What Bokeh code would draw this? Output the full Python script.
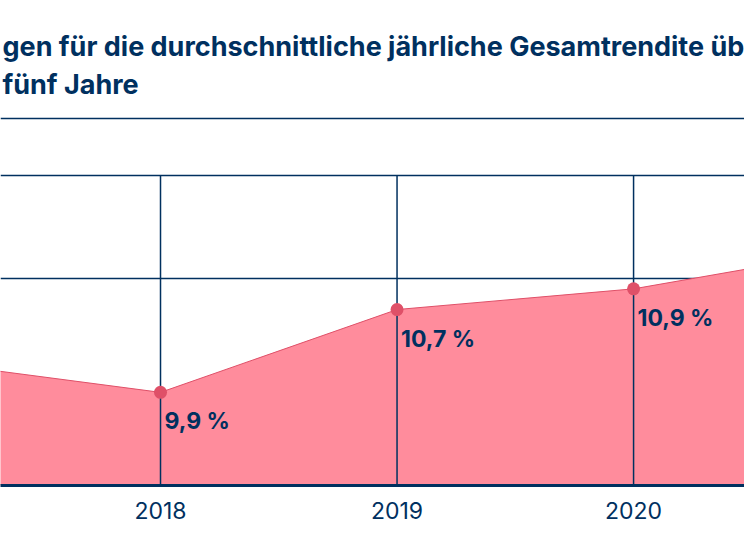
from bokeh.plotting import figure
from bokeh.models import Range1d, FixedTicker, Label, ColumnDataSource, Span
from bokeh.core.properties import value
from bokeh.embed import file_html
from bokeh.resources import INLINE

years = [2017, 2018, 2019, 2020, 2021]
returns = [10.2, 9.9, 10.7, 10.9, 11.3]
labels = ["", "9,9 %", "10,7 %", "10,9 %", ""]
tick_years = [2017, 2018, 2019, 2020, 2021]
grid_levels = [11, 12]
title_line1 = "gen für die durchschnittliche jährliche Gesamtrendite üb"
title_line2 = "fünf Jahre"

NAVY = "#00305F"
AREA = "#FF8C9C"
POINT = "#DF5068"
FONT = "Inter"

W, H = 744, 558
PX_PER_UNIT = 103.5
Y0 = 9.0
Y_TOP = Y0 + 485 / PX_PER_UNIT
SEP = Y0 + (485 - 118) / PX_PER_UNIT

p = figure(width=W, height=H, output_backend="svg", toolbar_location=None,
           x_range=Range1d(2017.3235, 2020.469), y_range=Range1d(Y0, Y_TOP),
           min_border_left=0, min_border_right=0, min_border_top=0,
           min_border_bottom=H - 485)
p.outline_line_color = None
p.background_fill_color = "white"
p.border_fill_color = "white"

src = ColumnDataSource(dict(x=years, y=returns, base=[Y0] * len(years),
                            lab=labels, top=[12.0] * len(years)))

# grid
p.xgrid.visible = False
p.ygrid.ticker = FixedTicker(ticks=grid_levels)
p.ygrid.grid_line_color = NAVY
p.ygrid.grid_line_width = 1.5
p.yaxis.visible = False

# separator under title
p.add_layout(Span(location=SEP, dimension="width", line_color=NAVY,
                  line_width=1.5, level="underlay"))

# area
p.varea(x="x", y1="base", y2="y", source=src, fill_color=AREA, fill_alpha=1.0)
p.line(x="x", y="y", source=src, line_color=POINT, line_width=1)

# drop lines
p.segment(x0="x", y0="base", x1="x", y1="top", source=src, line_color=NAVY, line_width=1.5)

# points
p.scatter(x="x", y="y", source=src, size=13, fill_color=POINT, line_color=None)

# value labels
p.text(x="x", y="y", text="lab", source=src, x_offset=4, y_offset=15,
       text_font=value(FONT), text_font_style="bold", text_font_size="23px",
       text_color=NAVY, text_baseline="top", text_align="left")

# x axis
ax = p.xaxis[0]
ax.ticker = FixedTicker(ticks=tick_years)
ax.axis_line_color = NAVY
ax.axis_line_width = 3
ax.major_tick_line_color = None
ax.minor_tick_line_color = None
ax.major_label_text_font = FONT
ax.major_label_text_font_size = "23px"
ax.major_label_text_color = NAVY
ax.major_label_standoff = 10

# title
for txt, base_px in [(title_line1, 46), (title_line2, 84)]:
    p.add_layout(Label(x=2, y=Y0 + (485 - base_px) / PX_PER_UNIT,
                       x_units="screen", y_units="data", text=txt,
                       text_font=FONT, text_font_style="bold", text_font_size="27px",
                       text_color=NAVY, text_baseline="alphabetic"))

open("out.html", "w").write(file_html(p, INLINE))
